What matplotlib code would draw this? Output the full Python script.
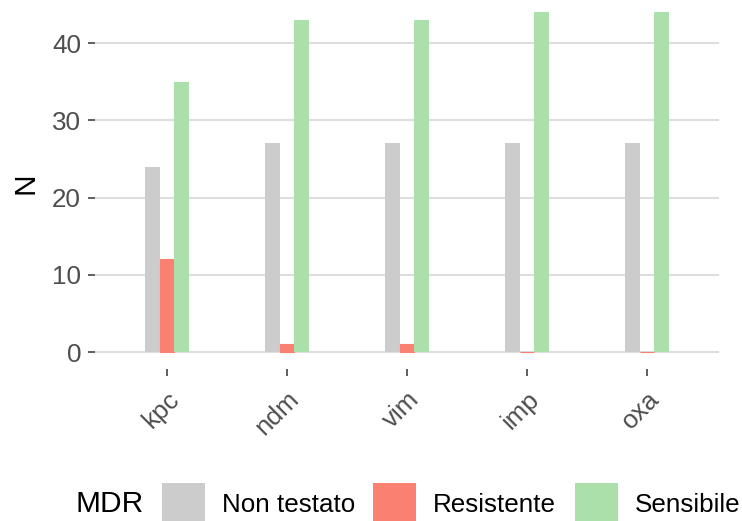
import numpy as np
import matplotlib.pyplot as plt
from matplotlib.patches import Rectangle

categories = ["kpc", "ndm", "vim", "imp", "oxa"]
non_testato = [24, 27, 27, 27, 27]
resistente = [12, 1, 1, 0, 0]
sensibile = [35, 43, 43, 44, 44]
series_labels = ["Non testato", "Resistente", "Sensibile"]
colors = ["#CCCCCC", "#FA8072", "#ABE0AB"]

plt.rcParams["font.family"] = ["Liberation Sans", "DejaVu Sans"]

W, H = 742, 521
fig = plt.figure(figsize=(W / 100, H / 100), dpi=100)
ax = fig.add_axes([95 / W, 1 - 369 / H, 624 / W, 369 / H])

x = np.arange(len(categories))
w = 0.12
for i, (vals, lab, col) in enumerate(zip([non_testato, resistente, sensibile], series_labels, colors)):
    ax.bar(x + (i - 1) * w, vals, width=w, color=col, label=lab,
           edgecolor=col if lab == "Resistente" else "none", linewidth=0.8, zorder=2)

ax.set_xlim(-0.6, len(categories) - 0.4)
ax.set_ylim(-2.2, 45.57)
ax.set_yticks([0, 10, 20, 30, 40])
ax.set_xticks(x)
ax.set_xticklabels(categories, rotation=45, ha="right", va="top", rotation_mode="anchor")
ax.grid(axis="y", color="#DEDEDE", linewidth=1.5, zorder=0)
ax.set_axisbelow(True)
for s in ax.spines.values():
    s.set_visible(False)
ax.tick_params(axis="both", colors="#333333", labelcolor="#4D4D4D", labelsize=18.7,
               length=5, width=1.1)
ax.tick_params(axis="y", pad=5)
ax.tick_params(axis="x", pad=8)
ax.set_ylabel("N", fontsize=21.5, va="center", ha="center")
ax.yaxis.set_label_coords(26 / W, 1 - 183 / H, transform=fig.transFigure)

# legend at the bottom, laid out horizontally like ggplot's
ymid = 1 - 504.5 / H
fig.text(75 / W, ymid, "MDR", fontsize=21.5, va="center", ha="left")
key_x = [162, 373, 575]
text_x = [222, 433, 635]
for kx, tx, lab, col in zip(key_x, text_x, series_labels, colors):
    fig.patches.append(Rectangle((kx / W, ymid - 21.5 / H), 43 / W, 43 / H,
                                 transform=fig.transFigure, facecolor=col, edgecolor="none"))
    fig.text(tx / W, ymid, lab, fontsize=18.7, va="center", ha="left")

fig.savefig("out.png", dpi=100)
